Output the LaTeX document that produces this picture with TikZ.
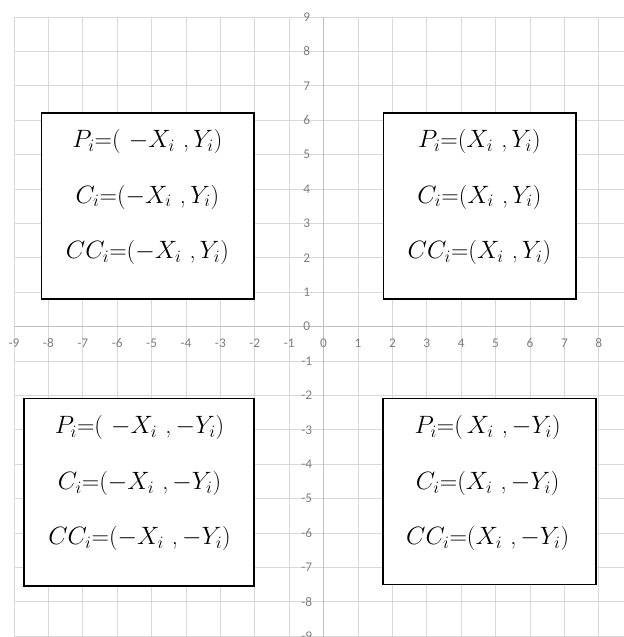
\documentclass[tikz,border=0pt]{standalone}
\usepackage{fontspec}
\newfontfamily\axisfont{Carlito}
\usepackage{tikz}
\usetikzlibrary{positioning}
\definecolor{gridgray}{HTML}{D9D9D9}
\definecolor{axisgray}{HTML}{BFBFBF}
\definecolor{labelgray}{HTML}{7F7F7F}

\begin{document}
\begin{tikzpicture}[
		g/.style={draw=gridgray,line width=0.7pt},
		ax/.style={draw=axisgray,line width=0.7pt},
		lbl/.style={font=\axisfont\fontsize{11}{12}\selectfont,text=labelgray,inner sep=0pt},
		quad/.style={draw=black,line width=1.5pt,fill=white},
		eq/.style={font=\fontsize{20}{24}\selectfont,inner sep=0pt},
		node distance=0.9cm
		]
		\useasboundingbox (-9.407,-9.024) rectangle (8.733,9.494);
		% grid
		\foreach \x in {-9,...,8} \draw[g] (\x,9) -- (\x,-9.1);
		\foreach \y in {-9,...,9} \draw[g] (-9,\y) -- (8.8,\y);
		\draw[ax] (0,9) -- (0,-9.1);
		\draw[ax] (-9,0) -- (8.8,0);
		% tick labels
		\foreach \x in {-9,...,8} \node[lbl] at (\x,-0.49) {\x};
		\foreach \y in {-9,...,9} \node[lbl] at (-0.49,\y) {\y};

		% quadrant boxes
		\node[quad,minimum width=6.17cm,minimum height=5.41cm] (q2) at (-5.115,3.515) {};
		\node[quad,minimum width=5.59cm,minimum height=5.41cm] (q1) at (4.535,3.515) {};
		\node[quad,minimum width=6.69cm,minimum height=5.44cm] (q3) at (-5.375,-4.81) {};
		\node[quad,minimum width=6.19cm,minimum height=5.41cm] (q4) at (4.815,-4.795) {};

		\node[eq] (q2p) at (-5.12,5.38) {$P_i$=(\,\,$-X_i$\,\,,\,$Y_i$)};
		\node[eq,below=of q2p] (q2c) {$C_i$=($-X_i$\,\,,\,$Y_i$)};
		\node[eq,below=of q2c] (q2cc) {$CC_i$=($-X_i$\,\,,\,$Y_i$)};

		\node[eq] (q1p) at (4.53,5.38) {$P_i$=($X_i$\,\,,\,$Y_i$)};
		\node[eq,below=of q1p] (q1c) {$C_i$=($X_i$\,\,,\,$Y_i$)};
		\node[eq,below=of q1c] (q1cc) {$CC_i$=($X_i$\,\,,\,$Y_i$)};

		\node[eq] (q3p) at (-5.35,-2.94) {$P_i$=(\,\,$-X_i$\,\,,\,$-Y_i$)};
		\node[eq,below=of q3p] (q3c) {$C_i$=($-X_i$\,\,,\,$-Y_i$)};
		\node[eq,below=of q3c] (q3cc) {$CC_i$=($-X_i$\,\,,\,$-Y_i$)};

		\node[eq] (q4p) at (4.77,-2.94) {$P_i$=(\,$X_i$\,\,,\,$-Y_i$)};
		\node[eq,below=of q4p] (q4c) {$C_i$=($X_i$\,\,,\,$-Y_i$)};
		\node[eq,below=of q4c] (q4cc) {$CC_i$=($X_i$\,\,,\,$-Y_i$)};
	\end{tikzpicture}
\end{document}
